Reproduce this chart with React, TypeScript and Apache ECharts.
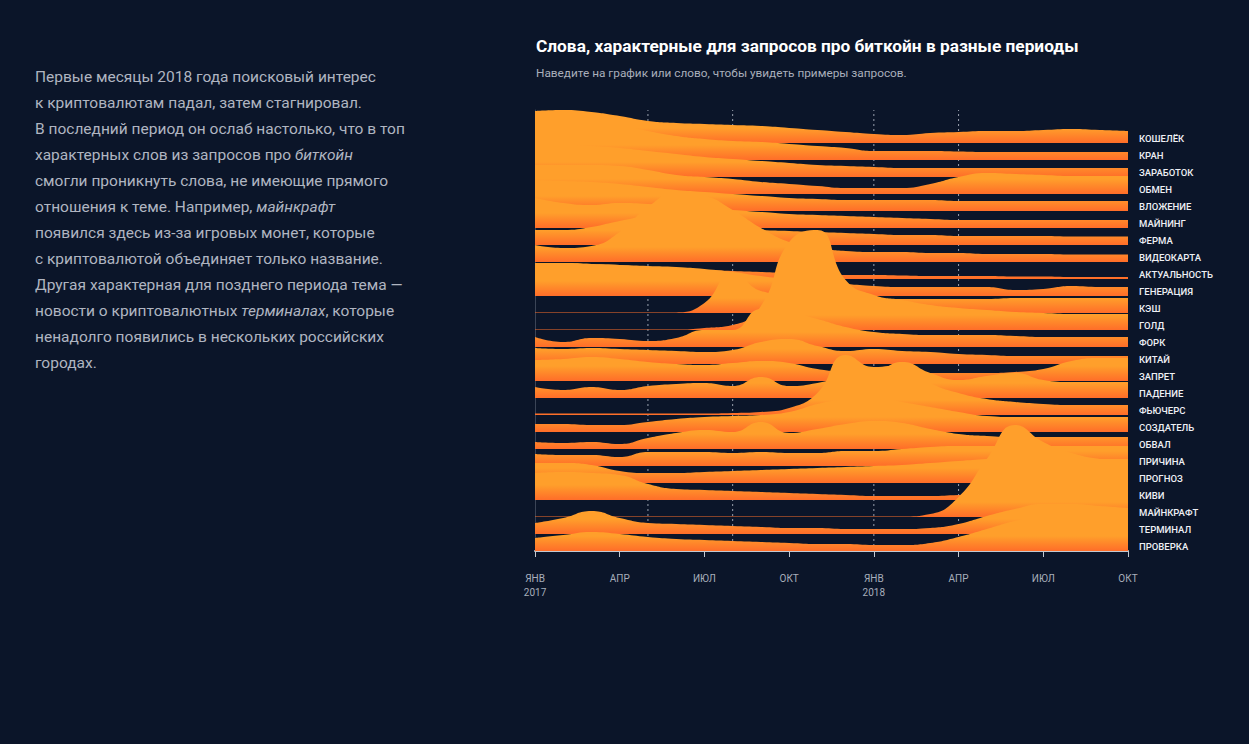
import React, { useEffect, useRef } from 'react';
import * as echarts from 'echarts';

// Months since January 2017 (0 = Jan 2017 ... 21 = Oct 2018)
const MONTHS = [0, 1, 2, 3, 4, 5, 6, 7, 8, 9, 10, 11, 12, 13, 14, 15, 16, 17, 18, 19, 20, 21];
const X_TICK_LABELS = ['ЯНВ\n2017', 'АПР', 'ИЮЛ', 'ОКТ', 'ЯНВ\n2018', 'АПР', 'ИЮЛ', 'ОКТ'];
// Period boundaries (months since Jan 2017)
const PERIOD_BOUNDS = [4, 7, 12, 15];

const WORDS = [
  'КОШЕЛЁК', 'КРАН', 'ЗАРАБОТОК', 'ОБМЕН', 'ВЛОЖЕНИЕ', 'МАЙНИНГ', 'ФЕРМА', 'ВИДЕОКАРТА',
  'АКТУАЛЬНОСТЬ', 'ГЕНЕРАЦИЯ', 'КЭШ', 'ГОЛД', 'ФОРК', 'КИТАЙ', 'ЗАПРЕТ', 'ПАДЕНИЕ',
  'ФЬЮЧЕРС', 'СОЗДАТЕЛЬ', 'ОБВАЛ', 'ПРИЧИНА', 'ПРОГНОЗ', 'КИВИ', 'МАЙНКРАФТ', 'ТЕРМИНАЛ', 'ПРОВЕРКА',
];

// Relative search interest per month for each word
const koshelek = [32, 33, 31, 27, 22, 20, 19, 18, 17, 15, 13, 11, 9, 8, 10, 11, 12, 12, 13, 14, 13, 12];
const kran = [36, 37, 37, 35, 29, 24, 21, 19, 18, 16, 14, 12, 9, 9, 9, 8.5, 8, 8, 8, 8, 8, 8];
const zarabotok = [32, 32, 31, 29, 26, 23, 20, 18, 16, 14, 12, 11, 10, 9, 9, 9, 9, 9, 9, 9, 9, 9];
const obmen = [29, 29, 29, 28, 24, 19, 17, 15, 12, 10, 8, 6, 6, 6, 10, 17, 21, 20, 19, 18, 18, 18];
const vlozhenie = [31, 30, 29, 27, 24, 21, 19, 17, 15, 13, 12, 11, 11, 11, 11, 10, 10, 10, 10, 10, 10, 10];
const mayning = [30, 25, 23, 25, 24, 22, 20, 18, 16, 14, 13, 12, 11, 10, 9, 8, 8, 8, 8, 8, 8, 8];
const ferma = [15, 15, 18, 24, 28, 26, 22, 18, 15, 14, 13, 12, 11, 10, 10, 9, 9, 9, 9, 8.5, 8.5, 8.5];
const videokarta = [17, 14, 16, 30, 55, 69, 66, 52, 34, 20, 14, 11, 10, 10, 9, 9, 8, 8, 8, 7.5, 7.5, 7.5];
const aktualnost = [16, 16, 15, 14, 12, 10, 9, 8, 7, 6, 5, 4, 4, 3.5, 3, 3, 3, 2.5, 2.5, 2, 2, 2];
const generatsiya = [33, 33, 32, 31, 30, 29, 27, 24, 20, 17, 14, 12, 10, 9, 9, 9, 9, 6, 7, 10, 9, 9];
const kesh = [0.4, 0.4, 0.4, 0.4, 0.4, 0.6, 10, 40, 22, 18, 15, 14, 14, 14, 14, 14, 14, 15, 15, 15, 15, 15];
const gold = [0.4, 0.4, 0.4, 0.4, 0.4, 0.4, 2, 5, 24, 88, 100, 50, 35, 30, 25, 22, 20, 18, 17, 16, 16, 16];
const fork = [10, 5, 9, 8, 6, 9, 17, 17, 38, 35, 28, 20, 15, 13, 12, 12, 12, 11, 10, 10, 10, 10];
const kitay = [16, 15, 16, 15, 14, 13, 12, 14, 22, 25, 18, 13, 15, 13, 12, 10, 9, 8, 8, 8, 8, 8];
const zapret = [21, 22, 24, 22, 19, 17, 16, 18, 20, 18, 12, 9, 8, 8, 8, 8, 8, 9, 12, 20, 23, 23];
const padenie = [11, 8, 11, 8, 12, 14, 15, 12, 21, 12, 15, 22, 25, 36, 25, 18, 22, 25, 18, 16, 16, 16];
const fyuchers = [1.5, 1.5, 1.5, 1.5, 1.5, 1.5, 1.5, 2, 3, 7, 22, 60, 48, 50, 32, 22, 16, 13, 11, 10, 10, 10];
const sozdatel = [8, 8, 7, 7, 10, 13, 15, 16, 17, 20, 28, 33, 35, 30, 25, 20, 16, 15, 15, 15, 15, 15];
const obval = [7, 6, 7, 5, 11, 16, 19, 17, 27, 16, 20, 25, 28, 26, 20, 15, 13, 12, 12, 12, 12, 12];
const prichina = [12, 11, 11, 9, 14, 14, 14, 13, 14, 13, 13, 15, 15, 17, 19, 20, 20, 20, 20, 20, 20, 20];
const prognoz = [20, 20, 18, 12, 10, 10, 11, 12, 13, 14, 15, 16, 17, 18, 20, 22, 24, 25, 25, 24, 24, 24];
const kivi = [27, 28, 27, 25, 16, 11, 10, 9, 8, 7, 6, 5, 4, 4, 4, 5, 6, 7, 8, 8, 8, 8];
const maynkraft = [0.5, 0.5, 0.5, 0.5, 0.5, 0.5, 0.5, 0.5, 0.5, 0.5, 0.5, 0.5, 0.5, 0.5, 3, 20, 58, 92, 75, 64, 58, 55];
const terminal = [11, 16, 23, 16, 11, 10, 9, 8, 7, 6, 6, 5, 5, 5, 6, 10, 18, 25, 30, 30, 28, 26];
const proverka = [13, 16, 19, 17, 14, 12, 11, 10, 9, 8, 7, 7, 6, 6, 8, 14, 22, 30, 35, 37, 38, 38];

const SERIES_VALUES = [
  koshelek, kran, zarabotok, obmen, vlozhenie, mayning, ferma, videokarta,
  aktualnost, generatsiya, kesh, gold, fork, kitay, zapret, padenie,
  fyuchers, sozdatel, obval, prichina, prognoz, kivi, maynkraft, terminal, proverka,
];

const TITLE = 'Слова, характерные для запросов про биткойн в разные периоды';
const SUBTITLE = 'Наведите на график или слово, чтобы увидеть примеры запросов.';
const PARAGRAPH = [
  'Первые месяцы 2018 года поисковый интерес',
  'к криптовалютам падал, затем стагнировал.',
  'В последний период он ослаб настолько, что в топ',
  'характерных слов из запросов про {i|биткойн}',
  'смогли проникнуть слова, не имеющие прямого',
  'отношения к теме. Например, {i|майнкрафт}',
  'появился здесь из-за игровых монет, которые',
  'с криптовалютой объединяет только название.',
  'Другая характерная для позднего периода тема —',
  'новости о криптовалютных {i|терминалах}, которые',
  'ненадолго появились в нескольких российских',
  'городах.',
];

const ROW_STEP = 17;
const BG = '#0b1529';

export default function App() {
  const ref = useRef<HTMLDivElement>(null);

  useEffect(() => {
    if (!ref.current) return;
    const chart = echarts.init(ref.current, null, { renderer: 'svg' });

    const n = WORDS.length;
    const gridTop = 110;
    const gridH = (n - 1) * ROW_STEP + 33; // 441
    const gridLeft = 535;
    const gridW = 593;
    const yMax = gridH;
    const font = 'Roboto, "Noto Sans", sans-serif';

    const areaSeries = SERIES_VALUES.map((vals, i) => {
      const base = (n - 1 - i) * ROW_STEP;
      const basePx = gridTop + (yMax - base);
      return {
        type: 'line',
        name: WORDS[i],
        xAxisIndex: 0,
        yAxisIndex: 0,
        smooth: 0.5,
        symbol: 'none',
        silent: true,
        z: 2,
        lineStyle: { width: 0, opacity: 0 },
        areaStyle: {
          origin: base,
          opacity: 1,
          color: new echarts.graphic.LinearGradient(
            0, basePx - 15, 0, basePx,
            [
              { offset: 0, color: '#ff9f2b' },
              { offset: 1, color: '#ff6d29' },
            ],
            true
          ),
        },
        data: MONTHS.map((m, j) => [m, base + vals[j]]),
      };
    });

    const periodSeries = PERIOD_BOUNDS.map((b) => ({
      type: 'line',
      xAxisIndex: 0,
      yAxisIndex: 0,
      symbol: 'none',
      silent: true,
      z: 1,
      lineStyle: { color: '#9aa1ae', width: 1, type: [2, 3] },
      data: [[b, 0], [b, yMax]],
    }));

    const paragraph = PARAGRAPH.map((line, k) => ({
      type: 'text',
      left: 35,
      top: 69 + k * 26,
      silent: true,
      style: {
        text: line,
        fill: '#b0b5c1',
        font: `15.5px ${font}`,
        rich: {
          i: { fontStyle: 'italic', fill: '#b0b5c1', fontSize: 15.5, fontFamily: font },
        },
      },
    }));

    chart.setOption({
      animation: false,
      backgroundColor: BG,
      title: {
        text: TITLE,
        subtext: SUBTITLE,
        left: 536,
        top: 37,
        padding: 0,
        itemGap: 13,
        textStyle: { color: '#ffffff', fontSize: 17.3, fontWeight: 'bold', fontFamily: font },
        subtextStyle: { color: '#a9afbb', fontSize: 11.8, fontFamily: font },
      },
      grid: [
        { left: gridLeft, top: gridTop, width: gridW, height: gridH },
        { left: gridLeft + gridW, top: 129.5, width: 1, height: n * ROW_STEP },
      ],
      xAxis: [
        {
          type: 'value',
          gridIndex: 0,
          min: 0,
          max: 21,
          interval: 3,
          splitLine: { show: false },
          axisLine: { show: true, lineStyle: { color: '#c3c8d1', width: 2 } },
          axisTick: { show: true, length: 6, lineStyle: { color: '#c3c8d1', width: 1 } },
          axisLabel: {
            margin: 20,
            color: '#a7aebb',
            fontSize: 10,
            lineHeight: 14,
            fontFamily: font,
            formatter: (v: number) => X_TICK_LABELS[Math.round(v / 3)] ?? '',
          },
        },
        { type: 'value', gridIndex: 1, show: false },
      ],
      yAxis: [
        {
          type: 'value',
          gridIndex: 0,
          min: 0,
          max: yMax,
          splitLine: { show: false },
          axisTick: { show: false },
          axisLabel: { show: false },
          axisLine: { show: true, lineStyle: { color: '#3b4456', width: 1 } },
        },
        {
          type: 'category',
          gridIndex: 1,
          data: WORDS,
          inverse: true,
          position: 'right',
          axisLine: { show: false },
          axisTick: { show: false },
          splitLine: { show: false },
          axisLabel: {
            margin: 10,
            color: '#eef0f5',
            fontSize: 9.5,
            fontWeight: 500,
            fontFamily: font,
            interval: 0,
          },
        },
      ],
      graphic: paragraph,
      series: [...periodSeries, ...areaSeries],
    });

    return () => chart.dispose();
  }, []);

  return (
    <div
      style={{ position: 'fixed', left: 0, top: 0, width: 1249, height: 744, background: BG }}
    >
      <div ref={ref} style={{ width: 1249, height: 744 }} />
    </div>
  );
}
